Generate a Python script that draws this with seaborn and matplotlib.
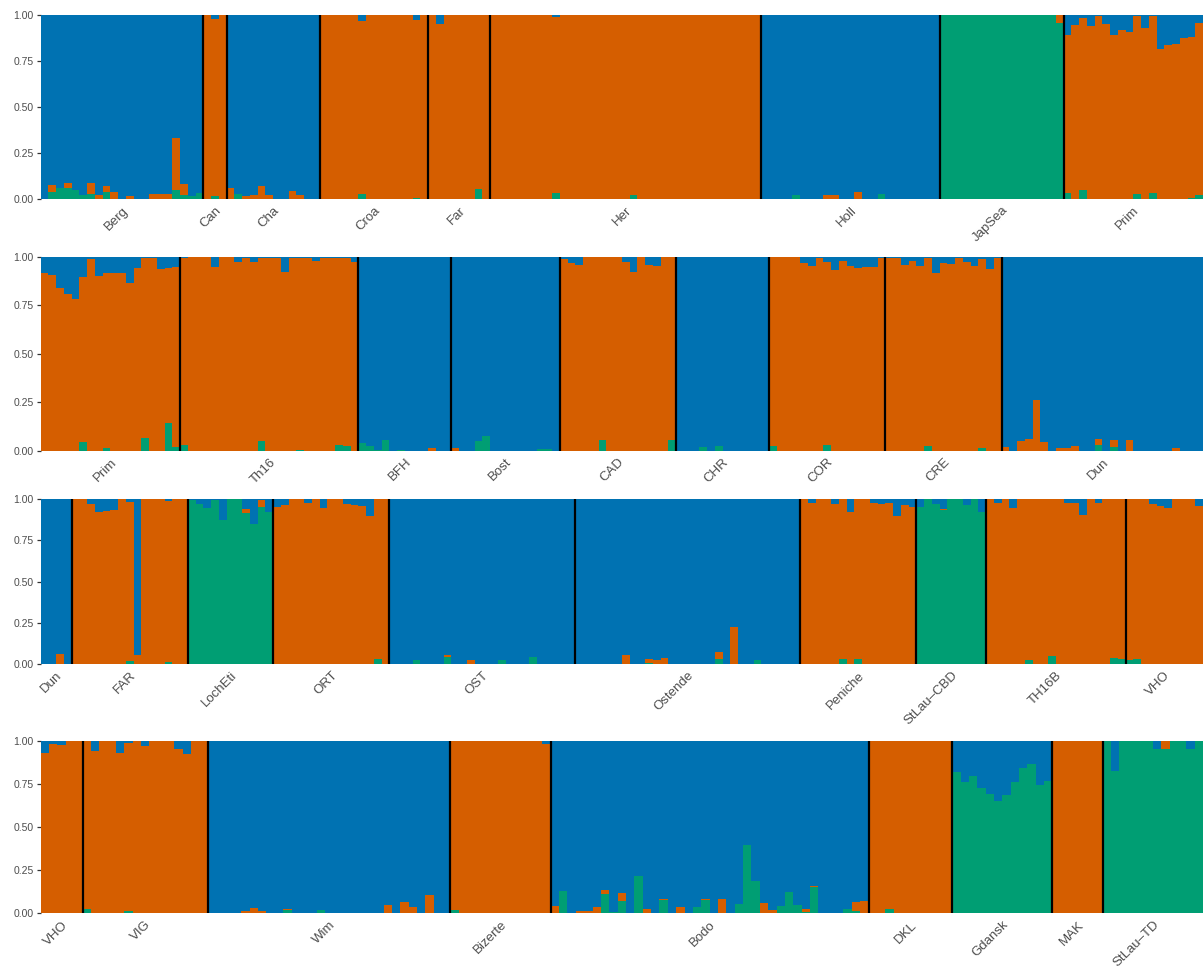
import matplotlib
matplotlib.use("Agg")
import matplotlib.pyplot as plt
import numpy as np
import pandas as pd
import seaborn as sns

# ancestry cluster colours
CLUSTER_COLORS = {"K1": "#0072B2", "K2": "#D55E00", "K3": "#009E73"}

# ---------------------------------------------------------------- row 1
row1_pops = ["Berg", "Can", "Cha", "Croa", "Far", "Her", "Holl", "JapSea", "Prim"]
row1_sizes = [21, 3, 12, 14, 8, 35, 23, 16, 18]
row1_green = [
    0, .036, .06, .06, .047, .02, .025, 0, .036, 0, 0, 0, 0, 0, 0, 0, 0, .047, .02, .015, .03,  # Berg
    0, .015, 0,  # Can
    0, .025, 0, 0, 0, 0, 0, 0, 0, 0, 0, 0,  # Cha
    0, 0, 0, 0, 0, .025, 0, 0, 0, 0, 0, 0, .005, 0,  # Croa
    0, 0, 0, 0, 0, 0, .053, 0,  # Far
    0, 0, 0, 0, 0, 0, 0, 0, .03, 0, 0, 0, 0, 0, 0, 0, 0, 0, .02, 0,
    0, 0, 0, 0, 0, 0, 0, 0, 0, 0, 0, 0, 0, 0, 0,  # Her
    0, 0, 0, 0, .02, 0, 0, 0, 0, 0, 0, 0, 0, 0, 0, .025, 0, 0, 0, 0, 0, 0, 0,  # Holl
    1, 1, 1, 1, 1, 1, 1, 1, 1, 1, 1, 1, 1, 1, 1, .957,  # JapSea
    .03, 0, .049, 0, 0, 0, 0, 0, 0, .025, 0, .03, 0, 0, 0, 0, .005, .02,  # Prim
]
row1_orange = [
    0, .038, 0, .025, 0, 0, .06, .02, .033, .036, 0, .015, 0, 0, .025, .025, .025, .283, .06, 0, 0,  # Berg
    1, .965, 1,  # Can
    .058, 0, .015, .02, .068, .02, 0, 0, .04, .02, 0, 0,  # Cha
    1, 1, 1, 1, 1, .945, 1, 1, 1, 1, 1, 1, .968, 1,  # Croa
    1, .951, 1, 1, 1, 1, .947, 1,  # Far
    1, 1, 1, 1, 1, 1, 1, 1, .959, 1, 1, 1, 1, 1, 1, 1, 1, 1, .98, 1,
    1, 1, 1, 1, 1, 1, 1, 1, 1, 1, 1, 1, 1, 1, 1,  # Her
    0, 0, 0, 0, 0, 0, 0, 0, .02, .02, 0, 0, .036, 0, 0, 0, 0, 0, 0, 0, 0, 0, 0,  # Holl
    0, 0, 0, 0, 0, 0, 0, 0, 0, 0, 0, 0, 0, 0, 0, .043,  # JapSea
    .861, .946, .935, .94, .995, .951, .891, .918, .907, .97, .929, .965, .815, .837, .842, .875, .875, .936,  # Prim
]

# ---------------------------------------------------------------- row 2
row2_pops = ["Prim", "Th16", "BFH", "Bost", "CAD", "CHR", "COR", "CRE", "Dun"]
row2_sizes = [18, 23, 12, 14, 15, 12, 15, 15, 26]
row2_green = [
    0, 0, 0, 0, 0, .045, 0, 0, .014, 0, 0, 0, 0, .065, 0, 0, .143, .02,  # Prim
    .03, 0, 0, 0, 0, 0, 0, 0, 0, 0, .05, 0, 0, 0, 0, .003, 0, 0, 0, 0, .03, .024, 0,  # Th16
    .04, .024, .005, .055, 0, .003, 0, 0, 0, 0, 0, 0,  # BFH
    0, 0, 0, .05, .076, 0, 0, 0, 0, 0, 0, .009, .009, 0,  # Bost
    0, 0, 0, 0, 0, .055, 0, 0, 0, 0, 0, 0, 0, 0, .055,  # CAD
    0, 0, 0, .019, 0, .024, 0, 0, 0, 0, 0, 0,  # CHR
    .024, 0, 0, 0, 0, 0, 0, .03, 0, 0, 0, 0, 0, 0, 0,  # COR
    0, 0, 0, 0, 0, .024, 0, 0, 0, 0, 0, 0, .014, 0, 0,  # CRE
    0, 0, 0, 0, 0, 0, 0, 0, 0, 0, 0, 0, .03, 0, .019, 0, 0, 0, 0, 0, 0, 0, 0, 0, 0, 0,  # Dun
]
row2_orange = [
    .917, .907, .84, .809, .783, .852, .99, .902, .903, .917, .917, .866, .943, .93, .995, .938, .8, .928,  # Prim
    .965, 1, 1, 1, .948, 1, 1, .974, .995, .974, .945, .995, .995, .922, .995, .992, .995, .98, .995, .995,
    .965, .971, .974,  # Th16
    0, 0, 0, 0, 0, 0, 0, 0, 0, .014, 0, 0,  # BFH
    .014, 0, 0, 0, 0, 0, 0, 0, 0, 0, 0, 0, 0, 0,  # Bost
    .99, .97, .959, 1, 1, .945, 1, 1, .974, .922, 1, .959, .953, 1, .945,  # CAD
    0, 0, 0, 0, 0, 0, 0, 0, 0, 0, 0, 0,  # CHR
    .976, 1, 1, 1, .97, .953, .995, .944, .933, .98, .953, .943, .948, .948, .995,  # COR
    .995, .995, .959, .98, .953, .971, .917, .97, .964, .995, .974, .953, .976, .938, .995,  # CRE
    .019, 0, .05, .06, .262, .045, 0, .014, .014, .024, 0, 0, .03, 0, .036, 0, .055, 0, 0, 0,
    0, 0, .014, 0, 0, 0,  # Dun
]

# ---------------------------------------------------------------- row 3
row3_pops = ["Dun", "FAR", "LochEti", "ORT", "OST", "Ostende", "Peniche", "StLau\u2013CBD", "TH16B", "VHO"]
row3_sizes = [4, 15, 11, 15, 24, 29, 15, 9, 18, 10]
row3_green = [
    0, 0, 0, 0,  # Dun
    0, 0, .003, 0, .003, .003, 0, .016, .003, 0, 0, 0, .012, 0, 0,  # FAR
    .995, .97, .945, .995, .873, 1, 1, .915, .848, .95, .921,  # LochEti
    0, 0, 0, 0, 0, 0, .003, 0, 0, 0, 0, 0, 0, .03, 0,  # ORT
    0, 0, 0, .022, 0, 0, 0, .04, 0, 0, 0, 0, 0, 0, .022, 0, 0, 0, .04, 0, 0, 0, 0, 0,  # OST
    0, 0, 0, 0, 0, 0, 0, 0, 0, .005, 0, 0, 0, 0, 0, 0, 0, 0, .028, 0,
    0, 0, 0, .022, 0, 0, 0, 0, 0,  # Ostende
    0, 0, 0, 0, 0, .028, 0, .028, 0, 0, 0, 0, 0, 0, 0,  # Peniche
    .952, 1, .97, .934, 1, 1, .964, 1, .922,  # StLau-CBD
    0, 0, 0, 0, 0, .022, 0, 0, .046, 0, 0, 0, 0, 0, 0, 0, .034, .028,  # TH16B
    .022, .028, 0, 0, 0, 0, 0, 0, .003, 0,  # VHO
]
row3_orange = [
    0, 0, .06, 0,  # Dun
    1, 1, .967, .921, .924, .93, 1, .964, .054, 1, 1, 1, .978, 1, 1,  # FAR
    0, 0, 0, 0, 0, 0, 0, .024, 0, .045, 0,  # LochEti
    .951, .964, 1, 1, .976, 1, .942, 1, 1, .97, .964, .958, .897, .97, 1,  # ORT
    0, 0, 0, 0, 0, 0, 0, .012, 0, 0, .022, 0, 0, 0, 0, 0, 0, 0, 0, 0, 0, 0, 0, 0,  # OST
    0, 0, 0, 0, 0, 0, .052, 0, 0, .023, .022, .034, 0, 0, 0, 0, 0, 0, .042, 0,
    .227, 0, 0, 0, 0, 0, 0, 0, 0,  # Ostende
    1, .976, 1, 1, .97, .972, .922, .972, 1, .976, .97, .976, .897, .964, .952,  # Peniche
    0, 0, 0, .006, 0, 0, 0, 0, 0,  # StLau-CBD
    1, .976, 1, .946, 1, .978, 1, 1, .954, 1, .976, .976, .903, 1, .976, 1, .966, .972,  # TH16B
    .978, .972, 1, .97, .958, .946, 1, 1, .997, .958,  # VHO
]

# ---------------------------------------------------------------- row 4
row4_pops = ["VHO", "VIG", "Wim", "Bizerte", "Bodo", "DKL", "Gdansk", "MAK", "StLau\u2013TD"]
row4_sizes = [5, 15, 29, 12, 38, 10, 12, 6, 12]
row4_green = [
    0, 0, 0, 0, 0,  # VHO
    .025, 0, 0, 0, 0, .014, 0, 0, 0, 0, 0, 0, 0, 0, 0,  # VIG
    0, 0, 0, 0, 0, 0, 0, 0, 0, .02, 0, 0, 0, .02, 0, 0, 0, 0, 0, 0,
    0, 0, 0, 0, 0, 0, 0, 0, 0,  # Wim
    .02, 0, 0, 0, 0, 0, 0, 0, 0, 0, 0, 0,  # Bizerte
    0, .13, 0, 0, 0, 0, .112, .008, .072, 0, .217, 0, 0, .077, 0, 0, 0, .037, .077, 0,
    0, 0, .054, .397, .188, 0, 0, .043, .124, .05, .005, .153, 0, 0, 0, .027, .015, 0,  # Bodo
    0, 0, .027, 0, 0, 0, 0, 0, 0, 0,  # DKL
    .82, .763, .797, .728, .693, .653, .687, .763, .844, .867, .745, .768,  # Gdansk
    0, 0, 0, 0, 0, 0,  # MAK
    1, .826, 1, 1, 1, 1, .953, .953, 1, 1, .953, 1,  # StLau-TD
]
row4_orange = [
    .93, .985, .977, 1, 1,  # VHO
    .975, .942, 1, 1, .93, .974, 1, .971, 1, 1, 1, .954, .925, 1, 1,  # VIG
    0, 0, 0, 0, .014, .031, .014, 0, 0, .005, 0, 0, 0, 0, 0, 0, 0, 0, 0, 0,
    0, .048, 0, .066, .037, 0, .106, 0, 0,  # Wim
    .98, 1, 1, 1, 1, 1, 1, 1, 1, 1, 1, .983,  # Bizerte
    .043, 0, 0, .014, .014, .037, .023, 0, .046, 0, 0, .025, 0, .006, 0, .037, 0, 0, .006, 0,
    .083, 0, 0, 0, 0, .06, .02, 0, 0, 0, .022, .007, 0, 0, 0, 0, .053, .073,  # Bodo
    1, 1, .973, 1, 1, 1, 1, 1, 1, 1,  # DKL
    0, 0, 0, 0, 0, 0, 0, 0, 0, 0, 0, 0,  # Gdansk
    1, 1, 1, 1, 1, 1,  # MAK
    0, 0, 0, 0, 0, 0, 0, .047, 0, 0, 0, 0,  # StLau-TD
]

ROWS = [
    (row1_pops, row1_sizes, row1_green, row1_orange),
    (row2_pops, row2_sizes, row2_green, row2_orange),
    (row3_pops, row3_sizes, row3_green, row3_orange),
    (row4_pops, row4_sizes, row4_green, row4_orange),
]

# panel boxes in pixels: (top, bottom)
W, H = 1203, 974
LEFT, RIGHT = 40.7, 1203
PANELS = [(15, 198.7), (257, 450.7), (499, 664), (741, 913.3)]

sns.set_theme(style="white")
plt.rcParams["font.family"] = ["Liberation Sans", "DejaVu Sans"]

fig = plt.figure(figsize=(W / 100, H / 100), dpi=100)

TEXT_COL = "#4D4D4D"

for (pops, sizes, green, orange), (top, bottom) in zip(ROWS, PANELS):
    ax = fig.add_axes([LEFT / W, 1 - bottom / H, (RIGHT - LEFT) / W, (bottom - top) / H])
    green = np.asarray(green, float)
    orange = np.asarray(orange, float)
    blue = np.clip(1 - green - orange, 0, None)
    n = len(green)
    idx = np.arange(n)
    df = pd.DataFrame({
        "ind": np.tile(idx, 3),
        "cluster": np.repeat(["K1", "K2", "K3"], n),
        "q": np.concatenate([blue, orange, green]),
    })
    sns.histplot(data=df, x="ind", weights="q", hue="cluster",
                 hue_order=["K1", "K2", "K3"], palette=CLUSTER_COLORS,
                 multiple="stack", discrete=True, shrink=1.0, alpha=1,
                 linewidth=0, legend=False, ax=ax)
    ax.set_xlim(-0.5, n - 0.5)
    ax.set_ylim(0, 1)
    bounds = np.cumsum(sizes)
    for b in bounds[:-1]:
        ax.axvline(b - 0.5, color="black", lw=1.6)
    starts = bounds - np.asarray(sizes)
    centers = (starts + bounds - 1) / 2
    ax.set_xticks(centers)
    ax.set_xticklabels(pops, rotation=45, ha="right", va="top",
                       rotation_mode="anchor", fontsize=9.5, color=TEXT_COL)
    ax.tick_params(axis="x", length=0, pad=4)
    ax.set_yticks([0, .25, .5, .75, 1])
    ax.set_yticklabels(["0.00", "0.25", "0.50", "0.75", "1.00"], fontsize=7.5, color=TEXT_COL)
    ax.tick_params(axis="y", length=3, width=0.9, color="#333333", pad=2, left=True)
    ax.set_xlabel("")
    ax.set_ylabel("")
    for s in ax.spines.values():
        s.set_visible(False)

fig.savefig("out.png", dpi=100)
